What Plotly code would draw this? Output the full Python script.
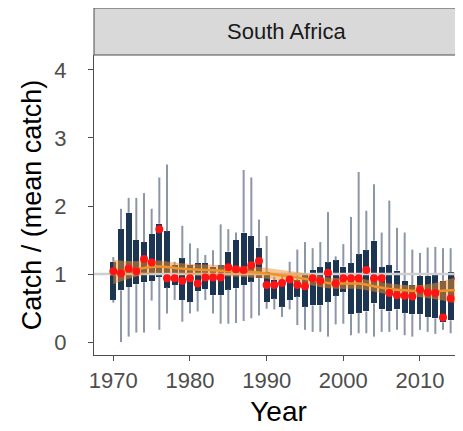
import plotly.graph_objects as go

years = list(range(1970, 2016))

# box top / bottom (quartiles), whisker ends and the mean (red dot), one per year
q3 = [1.18, 1.66, 1.90, 1.50, 1.47, 1.59, 1.74, 1.63, 1.13, 1.23,
      1.13, 1.16, 1.16, 1.11, 1.13, 1.33, 1.50, 1.61, 1.56, 1.39,
      1.03, 0.91, 0.91, 0.96, 0.91, 0.99, 1.06, 1.10, 1.17, 1.20,
      1.11, 1.16, 1.29, 1.35, 1.49, 1.10, 1.13, 1.05, 0.90, 0.84,
      0.97, 0.97, 1.00, 0.90, 1.03, 0.98]
q1 = [0.62, 0.76, 0.81, 0.85, 0.88, 0.90, 0.96, 0.80, 0.84, 0.62,
      0.59, 0.75, 0.78, 0.69, 0.69, 0.77, 0.79, 0.84, 0.89, 0.94,
      0.59, 0.64, 0.52, 0.62, 0.67, 0.52, 0.54, 0.54, 0.59, 0.68,
      0.74, 0.41, 0.43, 0.45, 0.57, 0.48, 0.45, 0.48, 0.43, 0.41,
      0.41, 0.37, 0.35, 0.29, 0.32, 0.51]
whisk_hi = [1.25, 1.96, 2.12, 2.12, 2.19, 1.96, 2.42, 2.61, 1.18, 1.71,
            1.45, 1.38, 1.28, 1.35, 1.73, 1.66, 1.61, 2.53, 2.42, 1.80,
            1.56, 0.96, 0.98, 1.18, 1.36, 1.47, 1.38, 1.47, 1.91, 1.26,
            1.44, 1.84, 2.50, 1.93, 2.32, 1.61, 2.08, 1.68, 1.61, 1.36,
            1.31, 1.39, 1.40, 1.38, 1.38, 1.16]
whisk_lo = [0.58, 0.00, 0.08, 0.14, 0.14, 0.61, 0.18, 0.42, 0.62, 0.30,
            0.42, 0.45, 0.62, 0.42, 0.27, 0.27, 0.28, 0.31, 0.35, 0.39,
            0.49, 0.48, 0.37, 0.48, 0.25, 0.18, 0.15, 0.15, 0.08, 0.26,
            0.27, 0.10, 0.13, 0.13, 0.08, 0.15, 0.15, 0.18, 0.10, 0.08,
            0.18, 0.15, 0.12, 0.18, 0.13, 0.45]
mean_catch = [1.04, 1.01, 1.08, 1.04, 1.22, 1.17, 1.66, 0.94, 0.94, 0.90,
              0.94, 0.86, 0.95, 0.95, 0.95, 1.10, 1.07, 1.06, 1.13, 1.19,
              0.84, 0.84, 0.87, 0.92, 0.84, 0.82, 0.94, 0.90, 1.02, 0.86,
              0.94, 0.94, 0.94, 1.06, 0.94, 0.94, 0.72, 0.69, 0.68, 0.67,
              0.77, 0.73, 0.72, 0.36, 0.64, 0.94]

# loess trend with its band
smooth_years = [1970, 1972, 1974, 1976, 1978, 1980, 1982, 1984, 1986, 1988, 1990, 1992,
                1994, 1996, 1998, 2000, 2002, 2004, 2006, 2008, 2010, 2012, 2014, 2015]
smooth_fit = [1.03, 1.06, 1.09, 1.11, 1.09, 1.07, 1.06, 1.05, 1.04, 1.03, 1.01, 0.98,
              0.95, 0.91, 0.87, 0.86, 0.86, 0.82, 0.78, 0.76, 0.75, 0.75, 0.76, 0.76]
smooth_lo = [0.85, 0.93, 0.99, 1.02, 1.01, 0.99, 0.98, 0.97, 0.96, 0.95, 0.93, 0.90,
             0.87, 0.83, 0.79, 0.78, 0.78, 0.74, 0.70, 0.68, 0.66, 0.63, 0.59, 0.56]
smooth_hi = [1.21, 1.19, 1.19, 1.20, 1.17, 1.15, 1.14, 1.13, 1.12, 1.11, 1.09, 1.06,
             1.03, 0.99, 0.95, 0.94, 0.94, 0.90, 0.86, 0.84, 0.84, 0.87, 0.93, 0.96]

x_range = [1967.48, 2015.61]
y_range = [-0.19, 4.22]

navy = "#1c3553"
box_colors = [navy] * (len(years) - 1) + ["#5b7fae"]

# whiskers as two pieces, outside the box
wx, wy = [], []
for yr, lo, a, b, hi in zip(years, whisk_lo, q1, q3, whisk_hi):
    wx += [yr, yr, None, yr, yr, None]
    wy += [lo, a, None, b, hi, None]

fig = go.Figure()
fig.add_trace(go.Bar(x=years, y=[b - a for a, b in zip(q1, q3)], base=q1,
                     width=0.82, marker=dict(color=box_colors, line_width=0)))
fig.add_trace(go.Scatter(x=wx, y=wy, mode="lines",
                         line=dict(color="#8b96a6", width=2)))
fig.add_trace(go.Scatter(x=x_range, y=[1, 1], mode="lines",
                         line=dict(color="#cfcfcf", width=2.5)))
fig.add_trace(go.Scatter(x=smooth_years, y=smooth_lo, mode="lines",
                         line=dict(width=0), line_shape="spline"))
fig.add_trace(go.Scatter(x=smooth_years, y=smooth_hi, mode="lines", fill="tonexty",
                         fillcolor="rgba(240,145,45,0.5)",
                         line=dict(width=0), line_shape="spline"))
fig.add_trace(go.Scatter(x=smooth_years, y=smooth_fit, mode="lines", line_shape="spline",
                         line=dict(color="#f0922b", width=2.5)))
fig.add_trace(go.Scatter(x=years, y=mean_catch, mode="markers",
                         marker=dict(color="#ff1414", size=8)))

# facet strip
fig.add_shape(type="rect", xref="paper", yref="paper", x0=0, x1=1.1, y0=1, y1=1 + 47 / 300,
              fillcolor="#d9d9d9", line=dict(color="#4d4d4d", width=1))
fig.add_annotation(text="South Africa", xref="paper", yref="paper", x=0.523, y=1 + 23.5 / 300,
                   xanchor="center", yanchor="middle",
                   showarrow=False, font=dict(size=22, color="#1a1a1a"))

fig.update_xaxes(range=x_range, tickvals=[1970, 1980, 1990, 2000, 2010], automargin=False,
                 showgrid=False, zeroline=False, showline=True, linecolor="#4d4d4d", linewidth=1.3,
                 ticks="outside", ticklen=5, tickwidth=1.3, tickcolor="#4d4d4d",
                 tickfont=dict(size=22, color="#4d4d4d"),
                 title=dict(text="Year", font=dict(size=28, color="black"), standoff=9))
fig.update_yaxes(range=y_range, tickvals=[0, 1, 2, 3, 4], automargin=False,
                 showgrid=False, zeroline=False, showline=True, linecolor="#4d4d4d", linewidth=1.3,
                 ticks="outside", ticklen=5, tickwidth=1.3, tickcolor="#4d4d4d",
                 ticklabelstandoff=17,
                 tickfont=dict(size=22, color="#4d4d4d"),
                 title=dict(text="Catch / (mean catch)", font=dict(size=27, color="black"), standoff=4))
# the page body adds an 8px offset, so the figure is sized to end at the window edge
fig.update_layout(
    width=455, height=423,
    margin=dict(l=86, r=0, t=47, b=76),
    font=dict(family="Liberation Sans, Arial, sans-serif"),
    plot_bgcolor="white", paper_bgcolor="white",
    showlegend=False, bargap=0,
)
fig.write_html("out.html")
